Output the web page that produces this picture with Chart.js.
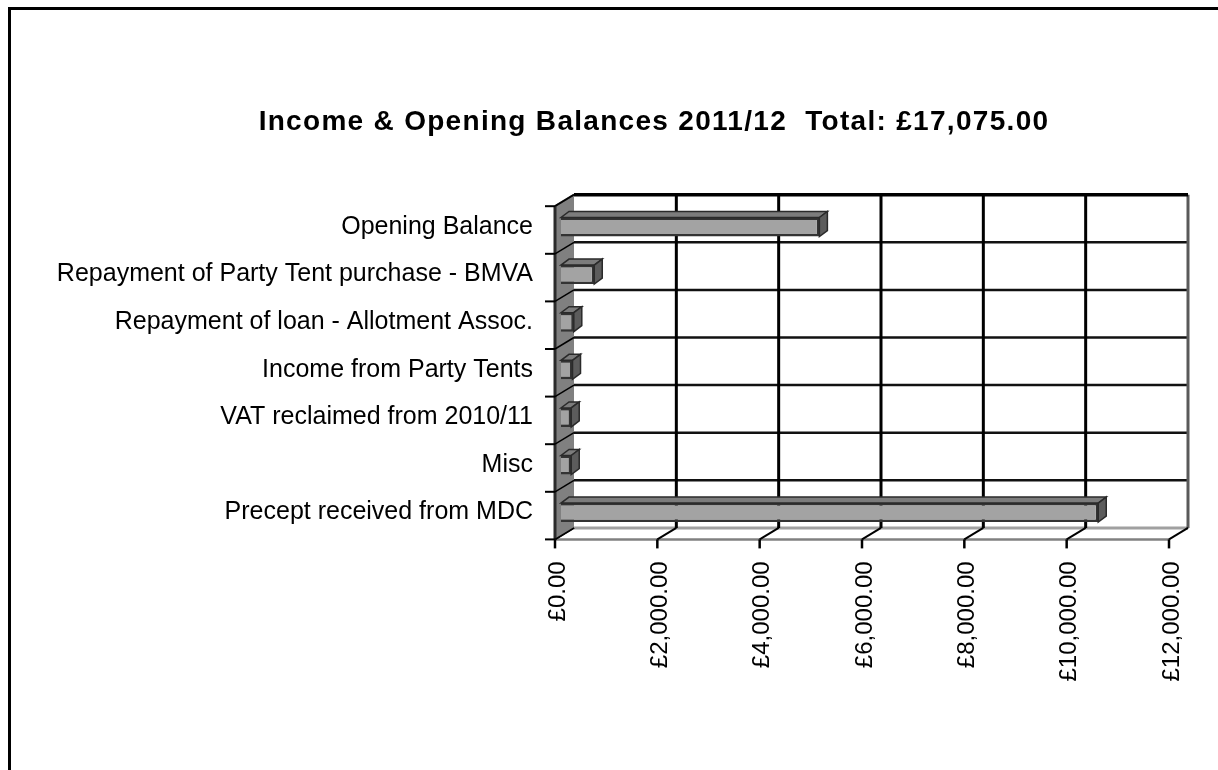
<!DOCTYPE html>
<html>
<head>
<meta charset="utf-8">
<script src="https://cdn.jsdelivr.net/npm/chart.js@4/dist/chart.umd.min.js"></script>
<style>
html,body{margin:0;padding:0;background:#fff;}
canvas{display:block;}
</style>
</head>
<body>
<canvas id="c" width="1218" height="770"></canvas>
<script>
const categories = [
  'Opening Balance',
  'Repayment of Party Tent purchase - BMVA',
  'Repayment of loan - Allotment Assoc.',
  'Income from Party Tents',
  'VAT reclaimed from 2010/11',
  'Misc',
  'Precept received from MDC'
];
const values = [5050, 650, 250, 225, 200, 200, 10500];
const xTickValues = [0, 2000, 4000, 6000, 8000, 10000, 12000];
const xTickLabels = ['£0.00', '£2,000.00', '£4,000.00', '£6,000.00', '£8,000.00', '£10,000.00', '£12,000.00'];
const titleText = 'Income & Opening Balances 2011/12  Total: £17,075.00';

const BACK = {dx: 13, dy: -8.5};
const FRONT = {dx: -6, dy: 3};
const BAR_DEPTH = {dx: 8, dy: -6};
const FONT = 'Liberation Sans, Arial, sans-serif';

const frame3d = {
  id: 'frame3d',
  beforeDraw(chart) {
    const ctx = chart.ctx;
    ctx.save();
    ctx.fillStyle = '#fff';
    ctx.fillRect(0, 0, chart.width, chart.height);
    ctx.strokeStyle = '#000';
    ctx.lineWidth = 3;
    ctx.strokeRect(9.5, 8.5, 1400, 1000);
    // title
    ctx.fillStyle = '#000';
    ctx.font = 'bold 28px ' + FONT;
    ctx.textAlign = 'center';
    ctx.textBaseline = 'middle';
    try { ctx.letterSpacing = '1.3px'; } catch (e) {}
    ctx.fillText(titleText, 654, 122);
    ctx.restore();
  },
  beforeDatasetsDraw(chart) {
    const ctx = chart.ctx, ca = chart.chartArea;
    const xs = chart.scales.x, ys = chart.scales.y;
    const bL = ca.left + BACK.dx, bR = ca.right + BACK.dx;
    const bT = ca.top + BACK.dy, bB = ca.bottom + BACK.dy;
    const fL = ca.left + FRONT.dx, fR = ca.right + FRONT.dx;
    const fT = ca.top + FRONT.dy, fB = ca.bottom + FRONT.dy;
    const n = categories.length;
    const band = (ca.bottom - ca.top) / n;
    ctx.save();
    // floor
    ctx.strokeStyle = '#a0a0a0'; ctx.lineWidth = 3;
    ctx.beginPath(); ctx.moveTo(bL, bB); ctx.lineTo(bR, bB); ctx.stroke();
    ctx.strokeStyle = '#808080'; ctx.lineWidth = 2.5;
    ctx.beginPath(); ctx.moveTo(fL, fB); ctx.lineTo(fR, fB); ctx.stroke();
    // horizontal gridlines on back wall at category boundaries
    ctx.strokeStyle = '#111'; ctx.lineWidth = 2.5;
    for (let i = 1; i < n; i++) {
      const yb = ys.getPixelForValue(i) - band / 2 + BACK.dy;
      ctx.beginPath(); ctx.moveTo(bL, yb); ctx.lineTo(bR, yb); ctx.stroke();
    }
    // vertical gridlines on back wall
    ctx.lineWidth = 3; ctx.strokeStyle = '#000';
    xTickValues.forEach((v, i) => {
      if (i === 0 || i === xTickValues.length - 1) return;
      const x = xs.getPixelForValue(v) + BACK.dx;
      ctx.beginPath(); ctx.moveTo(x, bT); ctx.lineTo(x, bB); ctx.stroke();
    });
    // right edge of back wall
    ctx.strokeStyle = '#5a5a5a'; ctx.lineWidth = 3;
    ctx.beginPath(); ctx.moveTo(bR, bT); ctx.lineTo(bR, bB); ctx.stroke();
    // floor diagonals + front ticks
    xTickValues.forEach((v) => {
      const xb = xs.getPixelForValue(v) + BACK.dx;
      const xf = xs.getPixelForValue(v) + FRONT.dx;
      ctx.strokeStyle = '#000'; ctx.lineWidth = 2;
      ctx.beginPath(); ctx.moveTo(xb, bB); ctx.lineTo(xf, fB); ctx.stroke();
      ctx.lineWidth = 2.5;
      ctx.beginPath(); ctx.moveTo(xf, fB); ctx.lineTo(xf, fB + 9); ctx.stroke();
    });
    // left wall
    ctx.fillStyle = '#808080';
    ctx.beginPath();
    ctx.moveTo(fL, fT); ctx.lineTo(bL, bT); ctx.lineTo(bL, bB); ctx.lineTo(fL, fB);
    ctx.closePath(); ctx.fill();
    ctx.strokeStyle = '#2a2a2a'; ctx.lineWidth = 3;
    ctx.beginPath(); ctx.moveTo(fL, fT); ctx.lineTo(fL, fB); ctx.stroke();
    ctx.lineWidth = 2;
    ctx.beginPath(); ctx.moveTo(fL, fT); ctx.lineTo(bL, bT); ctx.stroke();
    // top edge of back wall
    ctx.strokeStyle = '#000'; ctx.lineWidth = 3.5;
    ctx.beginPath(); ctx.moveTo(bL, bT); ctx.lineTo(bR, bT); ctx.stroke();
    // wall diagonals + left ticks
    for (let i = 0; i <= n; i++) {
      const yc = ca.top + i * band;
      const yf = yc + FRONT.dy, yb = yc + BACK.dy;
      ctx.strokeStyle = '#000'; ctx.lineWidth = 1.5;
      ctx.beginPath(); ctx.moveTo(fL, yf); ctx.lineTo(bL, yb); ctx.stroke();
      ctx.lineWidth = 2;
      ctx.beginPath(); ctx.moveTo(fL - 10, yf); ctx.lineTo(fL, yf); ctx.stroke();
    }
    ctx.restore();
  },
  afterDatasetsDraw(chart) {
    const ctx = chart.ctx;
    const meta = chart.getDatasetMeta(0);
    ctx.save();
    meta.data.forEach((el) => {
      const p = el.getProps(['x', 'y', 'base', 'height'], true);
      const top = p.y - p.height / 2, bot = p.y + p.height / 2;
      const x0 = p.base, x1 = p.x;
      const d = BAR_DEPTH;
      ctx.fillStyle = '#7c7c7c';
      ctx.strokeStyle = '#2a2a2a'; ctx.lineWidth = 1.5;
      ctx.beginPath();
      ctx.moveTo(x0, top); ctx.lineTo(x1, top); ctx.lineTo(x1 + d.dx, top + d.dy); ctx.lineTo(x0 + d.dx, top + d.dy);
      ctx.closePath(); ctx.fill(); ctx.stroke();
      ctx.fillStyle = '#5c5c5c';
      ctx.beginPath();
      ctx.moveTo(x1, top); ctx.lineTo(x1 + d.dx, top + d.dy); ctx.lineTo(x1 + d.dx, bot + d.dy); ctx.lineTo(x1, bot);
      ctx.closePath(); ctx.fill(); ctx.stroke();
    });
    ctx.restore();
  }
};

new Chart(document.getElementById('c'), {
  type: 'bar',
  data: {
    labels: categories,
    datasets: [{
      data: values,
      backgroundColor: '#a3a3a3',
      borderColor: '#333333',
      borderWidth: 2.5,
      borderSkipped: 'start',
      barPercentage: 0.4,
      categoryPercentage: 1.0
    }]
  },
  options: {
    indexAxis: 'y',
    responsive: false,
    animation: false,
    devicePixelRatio: 1,
    layout: {padding: {left: 20, right: 43, top: 203.2, bottom: 0}},
    plugins: {
      legend: {display: false},
      tooltip: {enabled: false},
      title: {display: false}
    },
    scales: {
      x: {
        type: 'linear',
        min: 0, max: 12000,
        afterBuildTicks(scale) { scale.ticks = xTickValues.map(v => ({value: v})); },
        afterFit(scale) { scale.height = 233.6; scale.paddingLeft = 0; scale.paddingRight = 0; },
        grid: {display: false, drawTicks: false},
        border: {display: false},
        ticks: {
          autoSkip: false,
          minRotation: 90, maxRotation: 90,
          padding: 25,
          labelOffset: -3,
          color: '#000',
          font: {family: FONT, size: 24},
          callback: (v, i) => xTickLabels[i]
        }
      },
      y: {
        afterFit(scale) { scale.width = 541; scale.paddingTop = 0; scale.paddingBottom = 0; },
        grid: {display: false, drawTicks: false},
        border: {display: false},
        ticks: {
          padding: 28,
          color: '#000',
          font: {family: FONT, size: 25}
        }
      }
    }
  },
  plugins: [frame3d]
});
</script>
</body>
</html>
